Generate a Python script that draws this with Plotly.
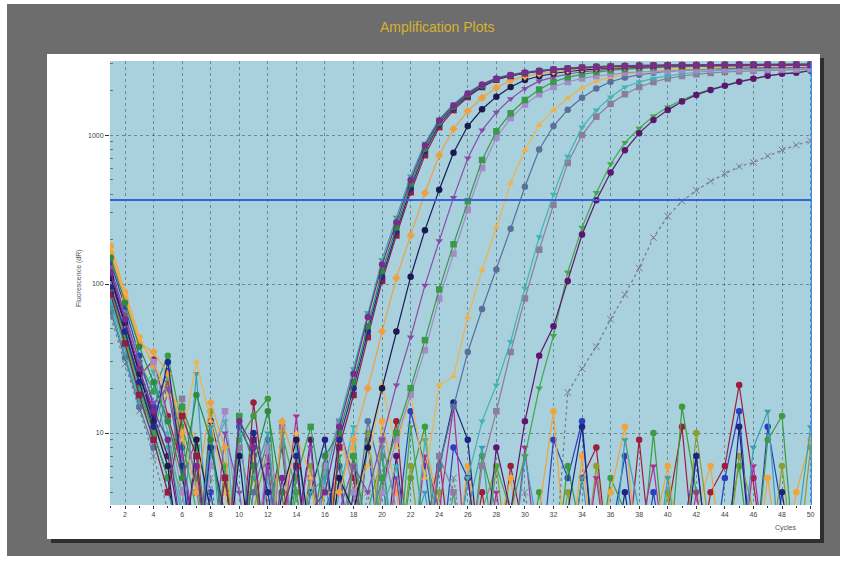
import plotly.graph_objects as go

cycles = list(range(1, 51))
threshold = 366
x_ticks = list(range(2, 51, 2))
y_ticks = [10, 100, 1000]
y_tick_labels = ["10", "100", "1000"]
y_minor = [4, 5, 6, 7, 8, 9, 20, 30, 40, 50, 60, 70, 80, 90,
           200, 300, 400, 500, 600, 700, 800, 900, 2000, 3000]

# amplifying wells
c1 = [120, 58, 27, 14, 9, 2, 6, 1, 1, 12, 8, 1, 5, 1, 3, 4, 11, 25, 60, 135,
      260, 500, 850, 1250, 1580, 1900, 2180, 2400, 2530, 2630,
      2700, 2760, 2800, 2840, 2870, 2890, 2910, 2925, 2935, 2945,
      2950, 2955, 2960, 2965, 2970, 2970, 2975, 2975, 2980, 2980]
c2 = [150, 75, 38, 22, 12, 5, 18, 9, 2, 1, 6, 14, 4, 1, 2, 7, 10, 22, 52, 122,
      240, 470, 810, 1210, 1550, 1870, 2150, 2380, 2520, 2620,
      2700, 2760, 2810, 2850, 2880, 2900, 2920, 2935, 2945, 2955,
      2960, 2965, 2970, 2975, 2980, 2985, 2985, 2990, 2990, 2995]
c3 = [95, 48, 22, 11, 30, 6, 1, 8, 3, 1, 10, 4, 1, 7, 1, 2, 9, 20, 48, 112,
      225, 440, 780, 1180, 1520, 1840, 2120, 2360, 2500, 2600,
      2680, 2740, 2790, 2830, 2860, 2885, 2905, 2920, 2930, 2940,
      2945, 2950, 2955, 2960, 2965, 2965, 2970, 2970, 2975, 2975]
c4 = [85, 40, 18, 9, 4, 13, 7, 1, 5, 1, 9, 1, 3, 6, 1, 1, 8, 18, 44, 105,
      212, 413, 733, 1130, 1470, 1800, 2100, 2350, 2490, 2600,
      2680, 2740, 2790, 2830, 2860, 2880, 2900, 2915, 2925, 2935,
      2940, 2945, 2950, 2955, 2960, 2960, 2965, 2965, 2970, 2970]
c5 = [70, 34, 16, 22, 8, 3, 1, 11, 1, 2, 5, 10, 1, 1, 4, 5, 12, 27, 64, 145,
      280, 530, 880, 1280, 1610, 1930, 2200, 2420, 2550, 2650,
      2720, 2780, 2820, 2860, 2890, 2910, 2925, 2940, 2950, 2955,
      2960, 2965, 2970, 2975, 2975, 2980, 2980, 2985, 2985, 2990]
c6 = [160, 80, 40, 35, 25, 10, 4, 16, 8, 1, 3, 1, 12, 6, 1, 4, 4, 9, 20, 48,
      110, 212, 408, 733, 1100, 1450, 1780, 2080, 2330, 2480,
      2590, 2670, 2730, 2780, 2820, 2850, 2875, 2895, 2910, 2920,
      2930, 2940, 2945, 2950, 2955, 2960, 2960, 2965, 2965, 2970]
c7 = [110, 55, 25, 12, 6, 1, 9, 3, 1, 7, 1, 1, 4, 9, 2, 1, 5, 3, 8, 20,
      48, 112, 230, 430, 760, 1150, 1490, 1810, 2100, 2340,
      2480, 2590, 2670, 2730, 2780, 2820, 2850, 2875, 2895, 2910,
      2920, 2930, 2935, 2940, 2945, 2950, 2950, 2955, 2955, 2960]
c8 = [130, 62, 30, 16, 20, 7, 2, 1, 10, 4, 1, 6, 1, 2, 8, 1, 3, 6, 4, 9,
      21, 44, 98, 195, 380, 700, 1080, 1420, 1750, 2050,
      2300, 2450, 2570, 2650, 2720, 2770, 2810, 2840, 2865, 2885,
      2900, 2910, 2920, 2925, 2930, 2935, 2940, 2940, 2945, 2945]
c9 = [90, 45, 21, 10, 5, 15, 8, 1, 1, 13, 6, 1, 1, 5, 11, 3, 1, 7, 2, 5,
      10, 20, 42, 92, 185, 360, 680, 1060, 1400, 1720,
      2020, 2280, 2440, 2560, 2650, 2720, 2770, 2810, 2840, 2860,
      2880, 2895, 2905, 2915, 2920, 2925, 2930, 2935, 2940, 2940]
c10 = [100, 50, 24, 30, 12, 4, 1, 6, 14, 2, 1, 8, 3, 1, 1, 6, 12, 4, 1, 4,
       9, 18, 36, 80, 160, 315, 600, 960, 1300, 1600,
       1880, 2100, 2270, 2400, 2490, 2560, 2610, 2650, 2680, 2700,
       2720, 2735, 2745, 2755, 2760, 2765, 2770, 2775, 2780, 2780]
c11 = [170, 85, 42, 30, 18, 9, 30, 12, 4, 1, 7, 1, 3, 10, 5, 1, 10, 4, 6, 21,
       8, 18, 5, 21, 24, 60, 124, 240, 476, 792,
       1167, 1470, 1770, 2070, 2300, 2450, 2560, 2640, 2700, 2750,
       2790, 2820, 2845, 2865, 2880, 2895, 2905, 2915, 2920, 2925]
c12 = [65, 32, 15, 8, 19, 6, 1, 10, 2, 1, 4, 9, 1, 3, 1, 7, 1, 2, 12, 5,
       1, 3, 1, 6, 15, 35, 68, 125, 235, 450,
       800, 1150, 1480, 1780, 2050, 2280, 2430, 2540, 2620, 2680,
       2720, 2750, 2775, 2795, 2810, 2820, 2830, 2840, 2845, 2850]
c13 = [80, 39, 18, 26, 10, 3, 1, 7, 12, 1, 1, 5, 1, 8, 2, 1, 4, 11, 1, 3,
       6, 1, 9, 2, 1, 5, 12, 21, 41, 94,
       207, 400, 720, 1130, 1470, 1800, 2100, 2270, 2400, 2500,
       2580, 2640, 2690, 2730, 2760, 2790, 2810, 2825, 2835, 2845]
c14 = [95, 46, 22, 12, 6, 17, 4, 1, 1, 8, 3, 1, 11, 1, 5, 1, 2, 6, 1, 9,
       3, 1, 1, 7, 4, 1, 6, 14, 35, 80,
       170, 340, 650, 1000, 1330, 1620, 1880, 2100, 2270, 2400,
       2490, 2560, 2610, 2650, 2680, 2700, 2720, 2735, 2745, 2755]
c15 = [110, 54, 25, 13, 7, 2, 1, 12, 5, 1, 1, 6, 1, 2, 9, 1, 1, 4, 1, 1,
       7, 1, 3, 1, 1, 5, 1, 8, 3, 12,
       33, 52, 105, 215, 365, 560, 790, 1030, 1260, 1470,
       1680, 1860, 2010, 2140, 2275, 2384, 2496, 2575, 2617, 2700]
c16 = [85, 41, 19, 10, 24, 9, 3, 1, 6, 1, 2, 1, 10, 4, 1, 1, 7, 2, 1, 5,
       1, 11, 2, 1, 4, 1, 1, 6, 3, 7,
       20, 45, 120, 240, 410, 640, 890, 1110, 1340, 1540,
       1720, 1890, 2030, 2160, 2290, 2400, 2500, 2580, 2630, 2720]
c17 = [60, 29, 14, 7, 3, 1, 1, 5, 1, 1, 3, 1, 1, 6, 1, 2, 1, 1, 4, 1,
       1, 3, 1, 1, 5, 1, 2, 1, 1, 4,
       1, 1, 18.7, 27, 38, 58, 85, 128, 205, 285,
       360, 425, 490, 550, 615, 655, 725, 793, 857, 911]

# non-amplifying wells
n1 = [140, 70, 33, 15, 26, 8, 1, 4, 1, 11, 7, 1, 2, 1, 1, 3, 6, 1, 9, 1,
      2, 14, 6, 1, 8, 5, 1, 1, 3, 1, 1, 9, 5, 12, 1, 2, 7, 1, 4, 1,
      2, 7, 1, 5, 14, 1, 11, 3, 1, 2]
n2 = [105, 52, 24, 31, 13, 6, 2, 1, 5, 1, 16, 3, 8, 1, 2, 1, 11, 5, 1, 4,
      12, 1, 2, 7, 1, 1, 4, 1, 6, 2, 1, 3, 1, 5, 8, 1, 1, 9, 1, 3,
      11, 1, 4, 6, 21, 5, 1, 2, 3, 1]
n3 = [125, 62, 30, 19, 33, 11, 5, 1, 1, 9, 13, 17, 1, 4, 1, 6, 2, 1, 3, 7,
      1, 5, 11, 1, 2, 1, 7, 3, 1, 1, 4, 1, 6, 2, 1, 5, 3, 1, 10, 1,
      15, 4, 1, 2, 6, 1, 9, 13, 1, 1]
n4 = [180, 88, 44, 28, 20, 14, 9, 3, 1, 2, 5, 1, 10, 1, 3, 2, 1, 8, 1, 12,
      4, 1, 9, 3, 1, 6, 1, 2, 5, 1, 3, 14, 1, 7, 1, 4, 11, 1, 2, 6,
      1, 3, 6, 1, 2, 1, 5, 1, 4, 9]
n5 = [90, 44, 20, 12, 7, 4, 1, 14, 6, 1, 3, 8, 1, 1, 6, 1, 3, 1, 10, 2,
      1, 6, 1, 4, 1, 1, 3, 6, 1, 2, 1, 1, 4, 1, 6, 1, 3, 1, 1, 4,
      1, 10, 2, 1, 7, 3, 1, 6, 1, 8]
n6 = [100, 50, 23, 10, 5, 1, 1, 3, 1, 1, 6, 1, 1, 1, 4, 9, 1, 7, 1, 1,
      3, 1, 1, 6, 16, 9, 1, 1, 2, 1, 1, 1, 3, 11, 1, 1, 4, 1, 2, 1,
      1, 7, 1, 1, 11, 1, 1, 4, 1, 1]
n7 = [115, 56, 26, 13, 22, 5, 9, 1, 3, 1, 1, 7, 2, 13, 1, 1, 5, 1, 2, 1,
      5, 1, 7, 3, 15, 1, 1, 4, 1, 8, 1, 2, 1, 1, 5, 1, 1, 2, 6, 1,
      1, 4, 1, 3, 1, 6, 1, 1, 2, 1]
n8 = [75, 38, 17, 9, 4, 2, 25, 1, 1, 13, 1, 2, 9, 1, 1, 5, 1, 3, 1, 8,
      1, 2, 4, 1, 1, 3, 8, 1, 1, 7, 2, 1, 1, 5, 1, 1, 9, 3, 1, 5,
      1, 1, 2, 1, 1, 8, 14, 1, 2, 11]

wells = [
    ("N1", n1, "#2a3fc0", "circle", "solid"),
    ("N2", n2, "#9e1d3c", "circle", "solid"),
    ("N3", n3, "#3c9c3c", "circle", "solid"),
    ("N4", n4, "#f2a43a", "circle", "solid"),
    ("N5", n5, "#8c9e2e", "circle", "solid"),
    ("N6", n6, "#1e2480", "circle", "solid"),
    ("N7", n7, "#b02a9a", "triangle-down", "solid"),
    ("N8", n8, "#3aa0b0", "triangle-down", "solid"),
    ("C17", c17, "#7a7a84", "x-thin-open", "dot"),
    ("C16", c16, "#3fa84a", "triangle-down", "solid"),
    ("C15", c15, "#5e1570", "circle", "solid"),
    ("C14", c14, "#8c7d9c", "square", "solid"),
    ("C13", c13, "#3fb5b5", "triangle-down", "solid"),
    ("C12", c12, "#5a6f9a", "circle", "solid"),
    ("C11", c11, "#f2b24a", "triangle-up", "solid"),
    ("C10", c10, "#a58ac8", "square", "solid"),
    ("C9", c9, "#3a9a4a", "square", "solid"),
    ("C8", c8, "#8a4aa8", "triangle-down", "solid"),
    ("C7", c7, "#1a1a50", "circle", "solid"),
    ("C6", c6, "#f0a040", "diamond", "solid"),
    ("C5", c5, "#36a3a6", "triangle-down", "solid"),
    ("C4", c4, "#8e1f45", "square", "solid"),
    ("C3", c3, "#1f2a8f", "circle", "solid"),
    ("C2", c2, "#2e8b3e", "circle", "solid"),
    ("C1", c1, "#7a2b8f", "circle", "solid"),
]

fig = go.Figure()
for name, vals, color, sym, dash in wells:
    fig.add_trace(go.Scatter(
        x=cycles, y=vals, mode="lines+markers", name=name,
        line=dict(color=color, width=1.2, dash=dash),
        marker=dict(color=color, symbol=sym, size=6.5,
                    line=dict(width=1 if sym.endswith("open") else 0, color=color)),
        showlegend=False,
    ))

PL, PR, PT, PB = 110, 812, 61, 505
W, H = 846, 565
def px(x):
    return (x - PL) / (PR - PL)
def py(y):
    return (PB - y) / (PB - PT)

shapes = [
    dict(type="rect", xref="paper", yref="paper", x0=px(7), x1=px(840), y0=py(556), y1=py(4),
         fillcolor="#6d6d6d", line=dict(width=0), layer="below"),
    dict(type="rect", xref="paper", yref="paper", x0=px(51), x1=px(824), y0=py(543), y1=py(58),
         fillcolor="#2e2e2e", line=dict(width=0), layer="below"),
    dict(type="rect", xref="paper", yref="paper", x0=px(47), x1=px(820), y0=py(539), y1=py(54),
         fillcolor="#ffffff", line=dict(width=0), layer="below"),
    dict(type="rect", xref="paper", yref="paper", x0=0, x1=1, y0=0, y1=1,
         fillcolor="#a8d0dd", line=dict(width=0), layer="below"),
    dict(type="line", xref="x domain", yref="y", x0=0, x1=1, y0=threshold, y1=threshold,
         line=dict(color="#3463d4", width=2)),
    dict(type="line", xref="x", yref="y domain", x0=50.1, x1=50.1, y0=0, y1=1,
         line=dict(color="#3d90e8", width=2.5)),
]

fig.update_layout(
    width=W, height=H,
    margin=dict(l=PL, r=W - PR, t=PT, b=H - PB),
    paper_bgcolor="#ffffff",
    plot_bgcolor="rgba(0,0,0,0)",
    font=dict(family="Liberation Sans, Arial, sans-serif", size=7, color="#444444"),
    shapes=shapes,
    showlegend=False,
    annotations=[
        dict(text="Amplification Plots", xref="paper", yref="paper", x=px(437), y=py(27),
             xanchor="center", yanchor="middle",
             showarrow=False, font=dict(size=14, color="#d6b22c")),
        dict(text="Cycles", xref="paper", yref="paper", x=px(786), y=py(528),
             xanchor="center", yanchor="middle",
             showarrow=False, font=dict(size=7, color="#555555")),
        dict(text="Fluorescence (dR)", xref="paper", yref="paper", x=px(79), y=py(278),
             xanchor="center", yanchor="middle",
             showarrow=False, textangle=-90, font=dict(size=7, color="#555555")),
    ],
)

fig.update_xaxes(
    range=[0.95, 50.1], tickmode="array", tickvals=x_ticks,
    showgrid=True, gridcolor="rgba(50,80,100,0.55)", griddash="3px,3px", gridwidth=1,
    zeroline=False, showline=False,
    ticks="outside", ticklen=3, tickcolor="#333333",
    minor=dict(dtick=1, ticks="outside", ticklen=2, tickcolor="#333333", showgrid=False),
    tickfont=dict(size=7, color="#444444"),
)
fig.update_yaxes(
    type="log", range=[0.517, 3.497], tickmode="array",
    tickvals=y_ticks, ticktext=y_tick_labels,
    showgrid=True, gridcolor="rgba(50,80,100,0.55)", griddash="3px,3px", gridwidth=1,
    zeroline=False, showline=False,
    ticks="outside", ticklen=4, tickcolor="#333333",
    minor=dict(tickmode="array", tickvals=y_minor, ticks="inside", ticklen=3,
               tickcolor="#5a7a8a", showgrid=False),
    tickfont=dict(size=7, color="#444444"),
)

fig.write_html("out.html", config={"displayModeBar": False},
               post_script="document.body.style.margin='0';")
